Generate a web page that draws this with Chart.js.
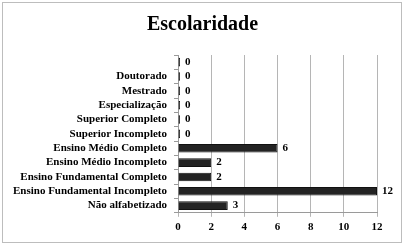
<!DOCTYPE html>
<html>
<head>
<meta charset="utf-8">
<script src="https://cdn.jsdelivr.net/npm/chart.js@4"></script>
<style>
    body { margin: 0; background: #fff; }
    #wrap { position: relative; width: 405px; height: 246px; }
    #frame { position: absolute; left: 2px; top: 2px; width: 398px; height: 239px; border: 1px solid #bdbdbd; pointer-events: none; }
</style>
</head>
<body>
<div id="wrap">
    <canvas id="escChart" width="405" height="246"></canvas>
    <div id="frame"></div>
</div>
<script>
const categories = ['', 'Doutorado', 'Mestrado', 'Especialização', 'Superior Completo', 'Superior Incompleto',
    'Ensino Médio Completo', 'Ensino Médio Incompleto', 'Ensino Fundamental Completo',
    'Ensino Fundamental Incompleto', 'Não alfabetizado'];
const counts = [0, 0, 0, 0, 0, 0, 6, 2, 2, 12, 3];
const xTicks = [0, 2, 4, 6, 8, 10, 12];

const serif = "'Liberation Serif', 'Times New Roman', serif";

// writes the value next to the end of each bar
const valueLabels = {
    id: 'valueLabels',
    afterDatasetsDraw(chart) {
        const ctx = chart.ctx;
        const meta = chart.getDatasetMeta(0);
        ctx.save();
        ctx.font = 'bold 11px ' + serif;
        ctx.fillStyle = '#000';
        ctx.textBaseline = 'middle';
        meta.data.forEach(function(bar, i) {
            ctx.fillText(String(counts[i]), bar.x + 5, bar.y);
        });
        ctx.restore();
    }
};

// title centred on the whole canvas, not just the padded area
const centreTitle = {
    id: 'centreTitle',
    afterLayout(chart) {
        if (chart.titleBlock) {
            chart.titleBlock.left = 0;
            chart.titleBlock.right = chart.width;
        }
    }
};

const ctx = document.getElementById('escChart').getContext('2d');
new Chart(ctx, {
    type: 'bar',
    data: {
        labels: categories,
        datasets: [{
            data: counts,
            backgroundColor: '#232323',
            borderColor: '#111',
            borderWidth: 1,
            barPercentage: 0.6,
            categoryPercentage: 1,
            minBarLength: 2
        }]
    },
    options: {
        indexAxis: 'y',
        responsive: false,
        animation: false,
        layout: { padding: { left: 8, right: 28, top: 4, bottom: 8 } },
        plugins: {
            legend: { display: false },
            tooltip: { enabled: false },
            title: {
                display: true,
                text: 'Escolaridade',
                color: '#000',
                font: { family: serif, size: 20, weight: 'bold' },
                padding: { top: 9, bottom: 18 }
            }
        },
        scales: {
            x: {
                min: 0,
                max: 12,
                afterBuildTicks(axis) {
                    axis.ticks = xTicks.map(v => ({ value: v }));
                },
                grid: { color: '#b5b5b5', tickLength: 4 },
                border: { color: '#9a9a9a' },
                ticks: { color: '#000', font: { family: serif, size: 11, weight: 'bold' }, padding: 4 }
            },
            y: {
                afterFit(axis) { axis.width = 170; },
                grid: { drawOnChartArea: false, color: '#9a9a9a', tickLength: 4 },
                border: { color: '#9a9a9a' },
                ticks: { color: '#000', autoSkip: false, font: { family: serif, size: 11, weight: 'bold' }, padding: 7 }
            }
        }
    },
    plugins: [valueLabels, centreTitle]
});
</script>
</body>
</html>
